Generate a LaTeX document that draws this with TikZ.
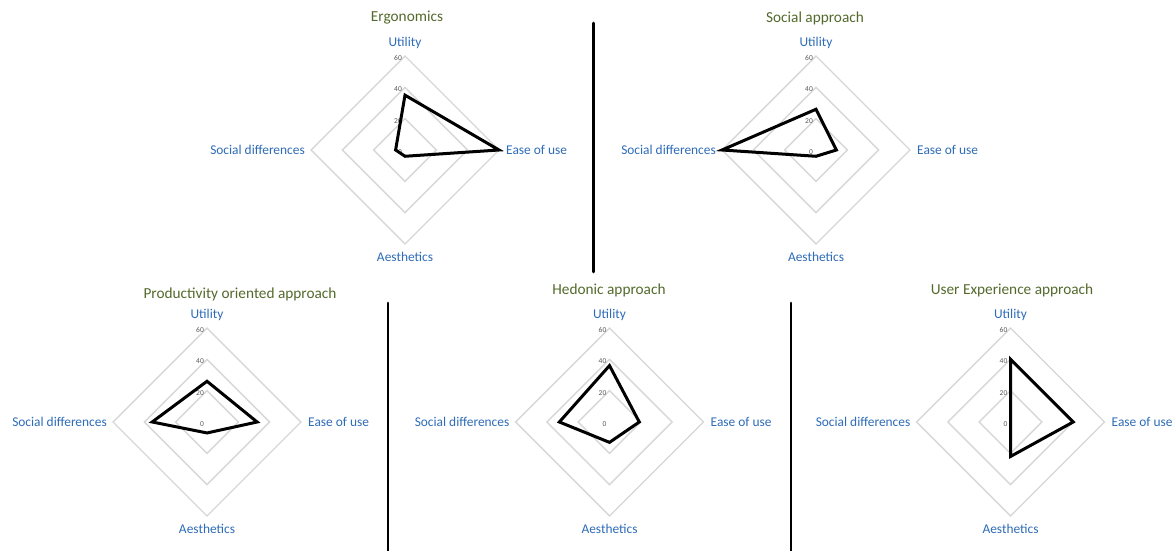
\documentclass[tikz,border=0pt]{standalone}
\usepackage{fontspec}
\setmainfont{Carlito}
\usetikzlibrary{positioning}
\definecolor{axisblue}{RGB}{46,108,184}
\definecolor{titlegreen}{RGB}{84,106,44}
\definecolor{gridgrey}{RGB}{215,215,215}
\definecolor{valuegrey}{RGB}{90,90,90}
\tikzset{
	gridline/.style={draw=gridgrey, line width=1.4pt, line join=miter},
	dataline/.style={draw=black, line width=3pt, line join=miter},
	sepline/.style={draw=black, line width=2.8pt},
	axislabel/.style={text=axisblue, font=\fontsize{13.4}{15}\selectfont, inner sep=1pt},
	charttitle/.style={text=titlegreen, font=\fontsize{15.3}{17}\selectfont, inner sep=1pt},
	valuelabel/.style={text=valuegrey, font=\fontsize{7.5}{9}\selectfont, inner sep=1pt, anchor=east}
}
% one radar chart: name, centre x, centre y, title position,
% utility, ease of use, aesthetics, social differences
\newcommand{\radarchart}[8]{%
	\begin{scope}[shift={(#2,#3)}]
		\foreach \r in {1,2,3}{
			\draw[gridline] (0,-\r*\rstep) -- (\r*\rstep,0) -- (0,\r*\rstep) -- (-\r*\rstep,0) -- cycle;}
		\foreach \v in {0,20,40,60}{
			\node[valuelabel] at (-2,-\v*\kval+2) {\v};}
		\draw[dataline] (0,-#5*\kval) -- (#6*\kval,0) -- (0,#7*\kval) -- (-#8*\kval,0) -- cycle;
		\node[axislabel] (#1-u) at (0,-107) {Utility};
		\node[axislabel, anchor=west] (#1-e) at (3*\rstep+6,0) {Ease of use};
		\node[axislabel] (#1-a) at (0,107) {Aesthetics};
		\node[axislabel, anchor=east] (#1-s) at (-3*\rstep-5,0) {Social differences};
	\end{scope}
	\node[charttitle] (#1-title) at #4 {\titletext};}
\def\rstep{31.33}
\def\kval{1.5667}
\begin{document}
\begin{tikzpicture}[x=1pt, y=-1pt, line cap=round]
	\useasboundingbox (0,0) rectangle (1176,551);
	\fill[white] (0,0) rectangle (1176,551);
	% top row
	\def\titletext{Ergonomics}
	\radarchart{ergo}{405}{150}{(407,18)}{35}{60}{4}{6}
	\def\titletext{Social approach}
	\radarchart{social}{816}{150}{(815,18)}{26}{13}{4}{60}
	% bottom row
	\def\titletext{Productivity oriented approach}
	\radarchart{prod}{207}{422}{(240,294)}{26}{32}{7}{35}
	\def\titletext{Hedonic approach}
	\radarchart{hedonic}{609.5}{422}{(609,290)}{36}{19}{13}{32}
	\def\titletext{User Experience approach}
	\radarchart{ux}{1010.5}{422}{(1012,290)}{40}{40}{22}{0}
	% separators
	\draw[sepline] (593.5,23) -- (593.5,272);
	\draw[sepline] (388,303) -- (388,551);
	\draw[sepline] (791,303) -- (791,551);
\end{tikzpicture}
\end{document}
